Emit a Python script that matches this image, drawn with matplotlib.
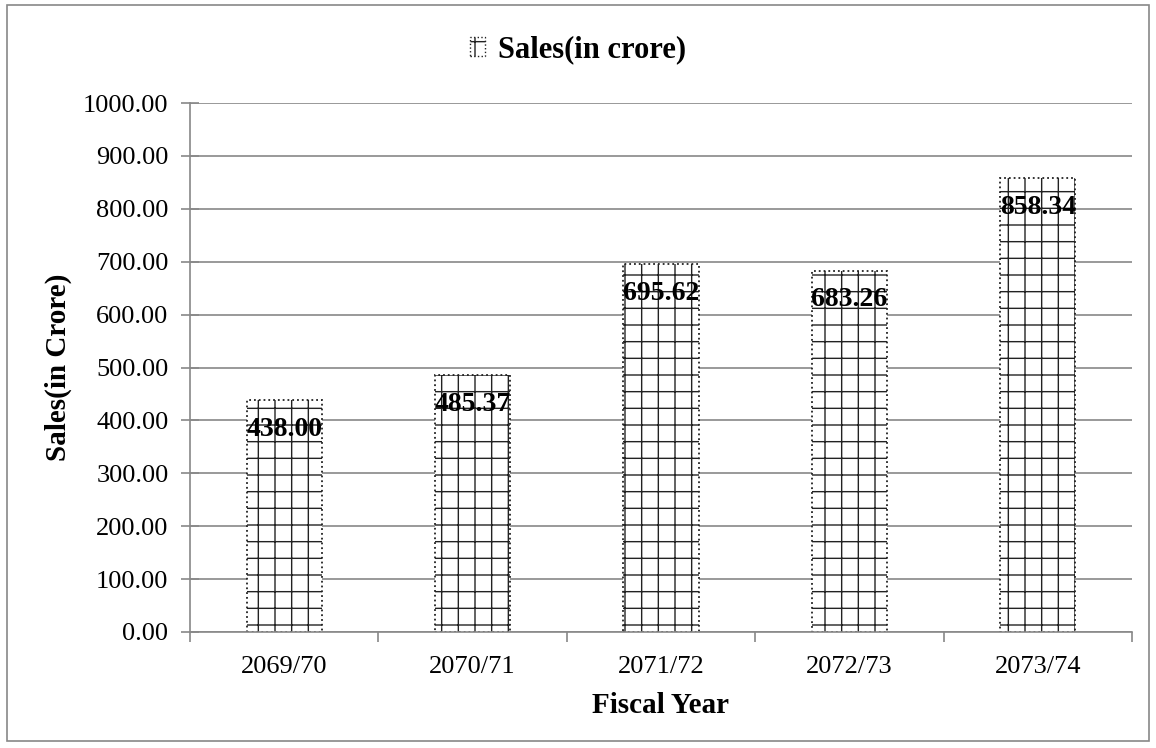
import matplotlib.pyplot as plt
from matplotlib.patches import Rectangle, Patch

plt.rcParams['font.family'] = ['Liberation Serif', 'DejaVu Serif']
plt.rcParams['hatch.linewidth'] = 1.0
plt.rcParams['hatch.color'] = '#333333'

years = ["2069/70", "2070/71", "2071/72", "2072/73", "2073/74"]
sales = [438.00, 485.37, 695.62, 683.26, 858.34]
yticks = [0, 100, 200, 300, 400, 500, 600, 700, 800, 900, 1000]

fig = plt.figure(figsize=(11.56, 7.48), dpi=100)
ax = fig.add_axes([190 / 1156, 1 - 632 / 748, (1132 - 190) / 1156, (632 - 103) / 748])

# outer frame of the chart area
fig.patches.append(Rectangle((0.006, 0.01), 0.988, 0.983, transform=fig.transFigure,
                             fill=False, edgecolor='#888888', linewidth=1.2))

x = range(len(years))
bars = ax.bar(x, sales, width=0.4, color='white', edgecolor='#222222',
              hatch='+', linewidth=1.3, linestyle=':', zorder=2)

for b, v in zip(bars, sales):
    ax.annotate(f"{v:.2f}", (b.get_x() + b.get_width() / 2, v), xytext=(0, -21),
                textcoords='offset points', ha='center', va='center',
                fontsize=20, fontweight='bold', zorder=3)

ax.set_xlim(-0.5, len(years) - 0.5)
ax.set_ylim(0, 1000)
ax.set_yticks(yticks)
ax.set_yticklabels([f"{t:.2f}" for t in yticks], fontsize=19)
ax.set_xticks(list(x))
ax.set_xticklabels(years, fontsize=19)
ax.tick_params(axis='x', length=0, pad=17)
ax.set_xticks([i + 0.5 for i in range(-1, len(years))], minor=True)
ax.tick_params(axis='x', which='minor', length=7, color='#888888', direction='out', width=1.2)
ax.tick_params(axis='y', length=13, color='#888888', direction='inout', pad=9, width=1.2)
ax.yaxis.grid(True, color='#888888', linewidth=1.2, zorder=0)
ax.set_axisbelow(True)
for s in ['top', 'right']:
    ax.spines[s].set_visible(False)
for s in ['left', 'bottom']:
    ax.spines[s].set_color('#888888')
    ax.spines[s].set_linewidth(1.2)

ax.set_xlabel("Fiscal Year", fontsize=21, fontweight='bold', va='center')
ax.xaxis.set_label_coords(0.5, -0.138)
ax.set_ylabel("Sales(in Crore)", fontsize=21, fontweight='bold', va='center')
ax.yaxis.set_label_coords(-0.14, 0.5)

handle = Patch(facecolor='white', edgecolor='#222222', hatch='+', linestyle=':', label="Sales(in crore)")
fig.legend(handles=[handle], loc='center', bbox_to_anchor=(0.5, 1 - 50 / 748), frameon=False,
           prop={'size': 22, 'weight': 'bold'}, handlelength=0.5, handleheight=0.6, handletextpad=0.4)

fig.savefig("out.png", dpi=100)
